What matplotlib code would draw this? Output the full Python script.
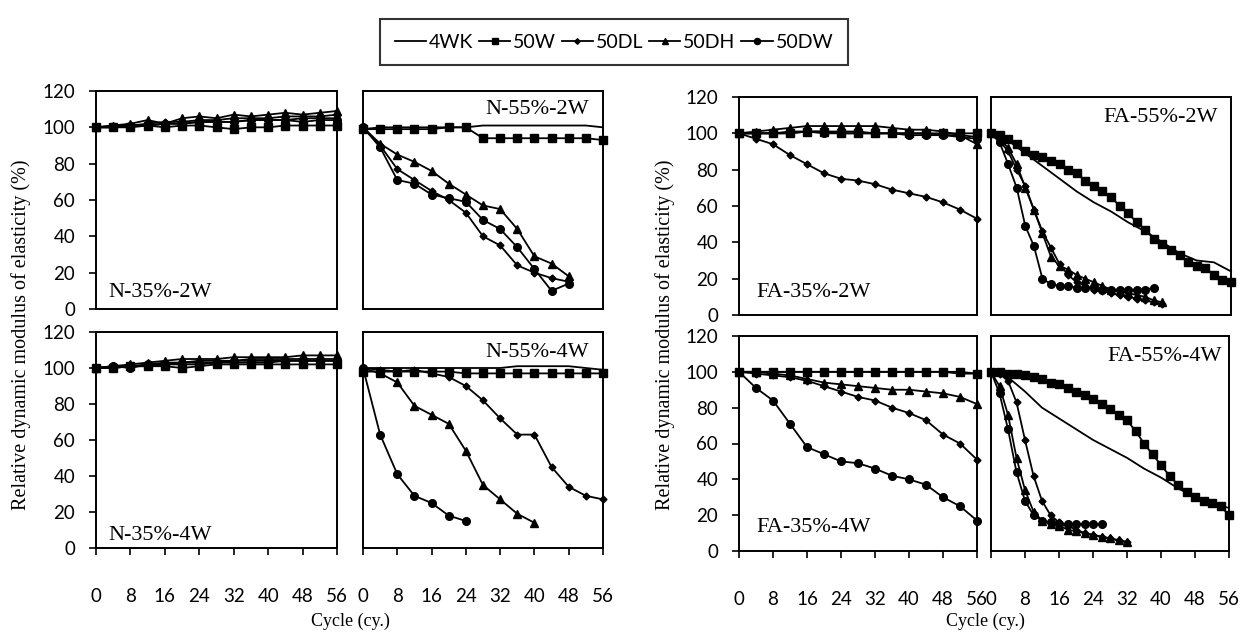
import matplotlib
matplotlib.use("Agg")
import matplotlib.pyplot as plt
from matplotlib.lines import Line2D

# ---------------- data ----------------
CYC4 = [0, 4, 8, 12, 16, 20, 24, 28, 32, 36, 40, 44, 48, 52, 56]
CYC2 = [0, 2, 4, 6, 8, 10, 12, 14, 16, 18, 20, 22, 24, 26, 28, 30, 32, 34, 36,
        38, 40, 42, 44, 46, 48, 50, 52, 54, 56]
SERIES = ["4WK", "50W", "50DL", "50DH", "50DW"]
YTICKS = [0, 20, 40, 60, 80, 100, 120]
XTICKS = [0, 8, 16, 24, 32, 40, 48, 56]

# N-35%-2W
n35_2w_4wk = [100, 100, 101, 101, 102, 102, 103, 103, 103, 104, 104, 104, 105, 105, 105]
n35_2w_50w = [100, 100, 100, 101, 100, 101, 101, 100, 99, 100, 100, 101, 101, 101, 101]
n35_2w_50dl = [100, 101, 101, 102, 103, 103, 104, 104, 105, 105, 105, 106, 106, 106, 107]
n35_2w_50dh = [100, 101, 102, 104, 102, 105, 106, 105, 107, 106, 107, 108, 107, 108, 109]
n35_2w_50dw = [100, 100, 101, 101, 102, 102, 103, 103, 103, 104, 104, 104, 103, 104, 104]

# N-35%-4W
n35_4w_4wk = [100, 100, 101, 101, 102, 102, 102, 103, 103, 103, 103, 104, 104, 104, 104]
n35_4w_50w = [100, 100, 101, 101, 101, 100, 101, 102, 102, 102, 102, 102, 102, 102, 102]
n35_4w_50dl = [100, 101, 101, 102, 103, 103, 104, 104, 104, 105, 105, 105, 105, 105, 105]
n35_4w_50dh = [100, 101, 102, 103, 104, 105, 105, 105, 106, 106, 106, 106, 107, 107, 107]
n35_4w_50dw = [100, 101, 100, 102, 102, 103, 103, 103, 104, 104, 104, 104, 104, 104, 104]

# N-55%-2W
n55_2w_4wk = [99, 100, 100, 100, 100, 100, 100, 101, 101, 101, 101, 101, 101, 101, 100]
n55_2w_50w = [99, 99, 99, 99, 99, 100, 100, 94, 94, 94, 94, 94, 94, 94, 93]
n55_2w_50dl = [100, 90, 77, 71, 65, 60, 53, 40, 35, 24, 20, 17, 15]
n55_2w_50dh = [100, 91, 85, 81, 76, 69, 63, 57, 55, 44, 29, 25, 18]
n55_2w_50dw = [100, 89, 71, 69, 63, 61, 59, 49, 44, 34, 22, 10, 14]

# N-55%-4W
n55_4w_4wk = [100, 100, 100, 100, 100, 100, 100, 100, 100, 101, 101, 101, 101, 100, 99]
n55_4w_50w = [98, 98, 98, 98, 98, 98, 97, 97, 97, 97, 97, 97, 97, 97, 97]
n55_4w_50dl = [100, 99, 98, 99, 97, 95, 90, 82, 72, 63, 63, 45, 34, 29, 27]
n55_4w_50dh = [100, 97, 92, 79, 74, 69, 54, 35, 27, 19, 14]
n55_4w_50dw = [100, 63, 41, 29, 25, 18, 15]

# FA-35%-2W
fa35_2w_4wk = [100, 100, 100, 101, 101, 101, 101, 101, 100, 100, 100, 100, 99, 99, 98]
fa35_2w_50w = [100, 100, 100, 100, 101, 101, 100, 100, 100, 100, 100, 100, 100, 100, 100]
fa35_2w_50dl = [100, 97, 94, 88, 83, 78, 75, 74, 72, 69, 67, 65, 62, 58, 53]
fa35_2w_50dh = [100, 101, 102, 103, 104, 104, 104, 104, 104, 103, 102, 102, 101, 99, 94]
fa35_2w_50dw = [100, 100, 100, 100, 101, 100, 100, 100, 100, 100, 99, 99, 99, 98, 97]

# FA-55%-2W
fa55_2w_4wk = [100, 96, 89, 82, 75, 68, 62, 57, 51, 46, 40, 34, 30, 29, 24]
fa55_2w_50w = [100, 99, 97, 94, 90, 88, 87, 85, 83, 80, 78, 74, 71, 68, 65, 60, 56, 51,
               47, 42, 39, 36, 33, 29, 27, 26, 22, 19, 18]
fa55_2w_50dl = [100, 96, 90, 80, 71, 58, 46, 37, 28, 22, 18, 16, 14, 13, 12, 11, 10, 9, 8, 7, 6]
fa55_2w_50dh = [100, 97, 92, 83, 70, 58, 45, 32, 27, 25, 22, 20, 18, 16, 14, 13, 12, 11, 10, 8, 7]
fa55_2w_50dw = [100, 95, 83, 70, 49, 38, 20, 17, 16, 16, 15, 15, 15, 14, 14, 14, 14, 14, 14, 15]

# FA-35%-4W
fa35_4w_4wk = [100, 100, 100, 100, 100, 100, 100, 100, 100, 100, 100, 100, 100, 99, 99]
fa35_4w_50w = [100, 100, 100, 100, 100, 100, 100, 100, 100, 100, 100, 100, 100, 100, 99]
fa35_4w_50dl = [100, 99, 98, 97, 95, 92, 89, 86, 84, 80, 77, 73, 65, 60, 51]
fa35_4w_50dh = [100, 100, 99, 98, 96, 94, 93, 92, 91, 90, 90, 89, 88, 86, 82]
fa35_4w_50dw = [100, 91, 84, 71, 58, 54, 50, 49, 46, 42, 40, 37, 30, 25, 17]

# FA-55%-4W
fa55_4w_4wk = [100, 97, 89, 80, 74, 68, 62, 57, 52, 46, 41, 35, 30, 27, 24]
fa55_4w_50w = [100, 100, 99, 99, 98, 97, 96, 94, 93, 91, 89, 87, 85, 82, 79, 76, 73, 67,
               60, 54, 48, 42, 37, 33, 30, 28, 27, 25, 20]
fa55_4w_50dl = [100, 99, 95, 83, 62, 42, 28, 20, 16, 14, 12, 10, 9, 8, 7, 6, 5]
fa55_4w_50dh = [100, 92, 76, 52, 34, 22, 17, 15, 14, 12, 11, 10, 9, 8, 7, 6, 5]
fa55_4w_50dw = [100, 88, 68, 44, 28, 20, 17, 16, 15, 15, 15, 15, 15, 15]

# ---------------- styles ----------------
STYLE = {
    "4WK": dict(marker=None, ms=0),
    "50W": dict(marker="s", ms=5.5),
    "50DL": dict(marker="D", ms=3.5),
    "50DH": dict(marker="^", ms=6),
    "50DW": dict(marker="o", ms=5.5),
}

def xs(cyc, vals):
    return cyc[:len(vals)]

PANELS = [
    ("N-35%-2W", {"4WK": n35_2w_4wk, "50W": n35_2w_50w, "50DL": n35_2w_50dl,
                  "50DH": n35_2w_50dh, "50DW": n35_2w_50dw}, "C4",
     (96, 91, 337, 309), True, False, (0.05, 0.03, "left", "bottom")),
    ("N-55%-2W", {"4WK": n55_2w_4wk, "50W": n55_2w_50w, "50DL": n55_2w_50dl,
                  "50DH": n55_2w_50dh, "50DW": n55_2w_50dw}, "C4",
     (363, 91, 603, 309), False, False, (0.94, 0.96, "right", "top")),
    ("N-35%-4W", {"4WK": n35_4w_4wk, "50W": n35_4w_50w, "50DL": n35_4w_50dl,
                  "50DH": n35_4w_50dh, "50DW": n35_4w_50dw}, "C4",
     (96, 332, 337, 548), True, True, (0.05, 0.015, "left", "bottom")),
    ("N-55%-4W", {"4WK": n55_4w_4wk, "50W": n55_4w_50w, "50DL": n55_4w_50dl,
                  "50DH": n55_4w_50dh, "50DW": n55_4w_50dw}, "C4",
     (363, 332, 603, 548), False, True, (0.94, 0.95, "right", "top")),
    ("FA-35%-2W", {"4WK": fa35_2w_4wk, "50W": fa35_2w_50w, "50DL": fa35_2w_50dl,
                   "50DH": fa35_2w_50dh, "50DW": fa35_2w_50dw}, "C4",
     (739, 97, 977, 315), True, False, (0.075, 0.06, "left", "bottom")),
    ("FA-55%-2W", {"4WK": fa55_2w_4wk, "50W": fa55_2w_50w, "50DL": fa55_2w_50dl,
                   "50DH": fa55_2w_50dh, "50DW": fa55_2w_50dw}, "MIX",
     (991, 97, 1231, 315), False, False, (0.945, 0.95, "right", "top")),
    ("FA-35%-4W", {"4WK": fa35_4w_4wk, "50W": fa35_4w_50w, "50DL": fa35_4w_50dl,
                   "50DH": fa35_4w_50dh, "50DW": fa35_4w_50dw}, "C4",
     (739, 336, 977, 551), True, True, (0.075, 0.065, "left", "bottom")),
    ("FA-55%-4W", {"4WK": fa55_4w_4wk, "50W": fa55_4w_50w, "50DL": fa55_4w_50dl,
                   "50DH": fa55_4w_50dh, "50DW": fa55_4w_50dw}, "MIX",
     (991, 336, 1229, 551), False, True, (0.97, 0.95, "right", "top")),
]

W, H = 1240, 633
fig = plt.figure(figsize=(W / 100, H / 100), dpi=100)
fig.patch.set_facecolor("white")

SANS = ["Lato", "DejaVu Sans"]
SERIF = ["Liberation Serif", "DejaVu Serif"]

for title, data, mode, (l, t, r, b), ylab, xlab, (tx, ty, ha, va) in PANELS:
    ax = fig.add_axes([l / W, 1 - b / H, (r - l) / W, (b - t) / H])
    for name in SERIES:
        vals = data[name]
        if mode == "MIX" and name != "4WK":
            cyc = CYC2
        else:
            cyc = CYC4
        st = STYLE[name]
        ax.plot(xs(cyc, vals), vals, color="black", lw=1.3,
                marker=st["marker"], ms=st["ms"], clip_on=False, zorder=3)
    ax.set_xlim(0, 56)
    ax.set_ylim(0, 120)
    for sp in ax.spines.values():
        sp.set_linewidth(1.4)
        sp.set_color("black")
    ax.set_yticks(YTICKS)
    ax.set_xticks(XTICKS)
    if ylab:
        ax.tick_params(axis="y", direction="out", length=5, width=1.2, pad=10,
                       labelsize=13.5)
        for lbl in ax.get_yticklabels():
            lbl.set_family(SANS)
    else:
        ax.tick_params(axis="y", left=False, labelleft=False)
    if xlab:
        ax.tick_params(axis="x", direction="out", length=5, width=1.2, pad=24,
                       labelsize=13.5)
        for lbl in ax.get_xticklabels():
            lbl.set_family(SANS)
    else:
        ax.tick_params(axis="x", bottom=False, labelbottom=False)
    ax.text(tx, ty, title, transform=ax.transAxes, ha=ha, va=va,
            fontsize=16, family=SERIF, zorder=5)

# axis labels
for xc in (21, 665):
    fig.text(xc / W, 1 - 335 / H, "Relative dynamic modulus of elasticity (%)",
             rotation=90, ha="center", va="center", fontsize=14.5, family=SERIF)
for xc in (350, 985):
    fig.text(xc / W, 1 - 621 / H, "Cycle (cy.)", ha="center", va="center",
             fontsize=13, family=SERIF)

# legend
handles = [Line2D([], [], color="black", lw=1.3, marker=STYLE[n]["marker"],
                  ms=STYLE[n]["ms"] * 0.8) for n in SERIES]
leg = fig.legend(handles, SERIES, loc="center",
                 bbox_to_anchor=(614 / W, 1 - 42 / H), ncol=5, frameon=True,
                 fancybox=False, edgecolor="black", handlelength=1.6,
                 handletextpad=0.15, columnspacing=0.3, borderpad=0.75,
                 prop={"family": SANS, "size": 14})
leg.get_frame().set_linewidth(1.5)

fig.savefig("out.png", dpi=100, facecolor="white")
